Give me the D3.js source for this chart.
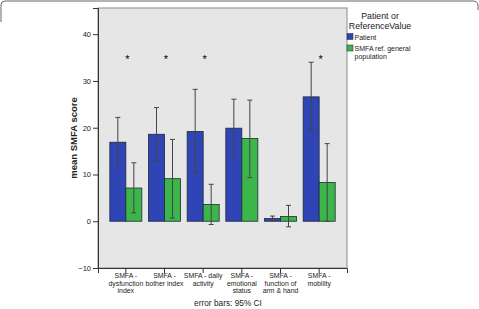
<!DOCTYPE html>
<meta charset="utf-8">
<script src="https://d3js.org/d3.v7.min.js"></script>
<style>
  body { margin: 0; background: #fff; }
  text { font-family: "Liberation Sans", Arial, sans-serif; fill: #222; }
</style>
<div id="my_dataviz"></div>
<script>

// categories and values
var categories = ["SMFA - dysfunction index", "SMFA - bother index", "SMFA - daily activity",
                  "SMFA - emotional status", "SMFA - function of arm & hand", "SMFA - mobility"];
var catLines = [["SMFA -", "dysfunction", "index"], ["SMFA -", "bother index"], ["SMFA - daily", "activity"],
                ["SMFA -", "emotional", "status"], ["SMFA -", "function of", "arm & hand"], ["SMFA -", "mobility"]];
var groups = ["Patient", "SMFA ref. general population"];
var patient   = [16.9, 18.6, 19.2, 19.9, 0.6, 26.6];
var patientLo = [11.8, 13.0, 10.3, 13.9, 0.1, 19.4];
var patientHi = [22.2, 24.3, 28.2, 26.1, 1.1, 34.0];
var reference   = [7.1, 9.1, 3.6, 17.7, 1.0, 8.3];
var referenceLo = [1.8, 0.7, -0.7, 9.3, -1.2, 0.0];
var referenceHi = [12.5, 17.5, 7.9, 25.9, 3.4, 16.6];
var significant = [1, 1, 1, 0, 0, 1];
var yTicks = [-10, 0, 10, 20, 30, 40];

var colors = ["#2f45b6", "#3cb64b"];

// set the dimensions of the graph
var W = 479, H = 309;
var plot = {left: 98, top: 8, right: 347, bottom: 268};

var svg = d3.select("#my_dataviz")
  .append("svg")
    .attr("width", W)
    .attr("height", H);

// outer frame (only the top is in view)
svg.append("path")
  .attr("d", "M1,22 L1,5 Q1,1 5,1 L473,1 Q478,1 478,6 L478,10")
  .attr("fill", "none")
  .attr("stroke", "#666")
  .attr("stroke-width", 1);

// scales
var y = d3.scaleLinear()
  .domain([-10, 45.6])
  .range([plot.bottom, plot.top]);

var x = d3.scaleBand()
  .domain(categories)
  .range([plot.left, plot.right])
  .paddingInner(0.172)
  .paddingOuter(0.306);

var xSub = d3.scaleBand()
  .domain(groups)
  .range([0, x.bandwidth()]);

// plot background
svg.append("rect")
  .attr("x", plot.left)
  .attr("y", plot.top)
  .attr("width", plot.right - plot.left)
  .attr("height", plot.bottom - plot.top)
  .attr("fill", "#e6e6e6")
  .attr("stroke", "#8a8a8a")
  .attr("stroke-width", 1);

// Y axis
var yAxis = svg.append("g")
  .attr("transform", "translate(" + plot.left + ",0)")
  .call(d3.axisLeft(y).tickValues(yTicks).tickSize(5).tickPadding(2));
yAxis.select(".domain").attr("stroke", "#333");
yAxis.selectAll(".tick line").attr("stroke", "#333");
yAxis.selectAll("text").style("font-size", "7.5px").attr("fill", "#333");

// X axis
var xAxis = svg.append("g")
  .attr("transform", "translate(0," + plot.bottom + ")")
  .call(d3.axisBottom(x).tickSize(5).tickFormat(""));
xAxis.select(".domain").attr("stroke", "#333");
xAxis.selectAll(".tick line").attr("stroke", "#333");

// category labels on several lines
categories.forEach(function(c, i) {
  var t = svg.append("text")
    .attr("text-anchor", "middle")
    .attr("x", x(c) + x.bandwidth() / 2)
    .attr("y", 278)
    .style("font-size", "6.9px")
    .attr("fill", "#333");
  catLines[i].forEach(function(line, j) {
    t.append("tspan")
      .attr("x", x(c) + x.bandwidth() / 2)
      .attr("dy", j === 0 ? 0 : 7.6)
      .text(line);
  });
});

// data rows for bars
var rows = [];
categories.forEach(function(c, i) {
  rows.push({cat: c, group: groups[0], value: patient[i], lo: patientLo[i], hi: patientHi[i]});
  rows.push({cat: c, group: groups[1], value: reference[i], lo: referenceLo[i], hi: referenceHi[i]});
});

// bars
svg.append("g")
  .selectAll("rect")
  .data(rows)
  .enter()
  .append("rect")
    .attr("x", function(d) { return x(d.cat) + xSub(d.group); })
    .attr("y", function(d) { return y(Math.max(d.value, 0)); })
    .attr("width", xSub.bandwidth())
    .attr("height", function(d) { return Math.abs(y(d.value) - y(0)); })
    .attr("fill", function(d) { return d.group === groups[0] ? colors[0] : colors[1]; })
    .attr("stroke", "#1d2a3a")
    .attr("stroke-width", 0.8);

// error bars
var err = svg.append("g")
  .selectAll("g")
  .data(rows)
  .enter()
  .append("g")
    .attr("stroke", "#444")
    .attr("stroke-width", 1);

err.append("line")
  .attr("x1", function(d) { return x(d.cat) + xSub(d.group) + xSub.bandwidth() / 2; })
  .attr("x2", function(d) { return x(d.cat) + xSub(d.group) + xSub.bandwidth() / 2; })
  .attr("y1", function(d) { return y(d.lo); })
  .attr("y2", function(d) { return y(d.hi); });

[ "lo", "hi" ].forEach(function(k) {
  err.append("line")
    .attr("x1", function(d) { return x(d.cat) + xSub(d.group) + xSub.bandwidth() / 2 - 2.5; })
    .attr("x2", function(d) { return x(d.cat) + xSub(d.group) + xSub.bandwidth() / 2 + 2.5; })
    .attr("y1", function(d) { return y(d[k]); })
    .attr("y2", function(d) { return y(d[k]); });
});

// significance stars
svg.append("g")
  .selectAll("text")
  .data(categories.filter(function(c, i) { return significant[i]; }))
  .enter()
  .append("text")
    .attr("text-anchor", "middle")
    .attr("x", function(d) { return x(d) + x.bandwidth() / 2 + 1.5; })
    .attr("y", y(35) + 5)
    .style("font-size", "11px")
    .style("fill", "#000")
    .text("*");

// y label
svg.append("text")
  .attr("text-anchor", "middle")
  .attr("transform", "translate(77,138) rotate(-90)")
  .style("font-size", "9.5px")
  .style("font-weight", "bold")
  .text("mean SMFA score");

// footnote
svg.append("text")
  .attr("text-anchor", "middle")
  .attr("x", 228)
  .attr("y", 306)
  .style("font-size", "8.3px")
  .attr("fill", "#333")
  .text("error bars: 95% CI");

// legend
svg.append("text")
  .attr("text-anchor", "middle")
  .attr("x", 380)
  .attr("y", 19)
  .style("font-size", "8.8px")
  .text("Patient or");
svg.append("text")
  .attr("text-anchor", "middle")
  .attr("x", 380)
  .attr("y", 28.5)
  .style("font-size", "8.8px")
  .text("ReferenceValue");

var legend = svg.append("g")
  .selectAll("g")
  .data(groups)
  .enter()
  .append("g")
    .attr("transform", function(d, i) { return "translate(347," + (33.5 + i * 11.5) + ")"; });

legend.append("rect")
  .attr("width", 6)
  .attr("height", 6)
  .attr("fill", function(d, i) { return colors[i]; })
  .attr("stroke", "#1d2a3a")
  .attr("stroke-width", 0.5);

legend.append("text")
  .attr("x", 7.5)
  .attr("y", 6)
  .style("font-size", "7px")
  .attr("fill", "#333")
  .each(function(d) {
    var parts = d === groups[1] ? ["SMFA ref. general", "population"] : [d];
    var t = d3.select(this);
    parts.forEach(function(p, j) {
      t.append("tspan").attr("x", 7.5).attr("dy", j === 0 ? 0 : 7.7).text(p);
    });
  });

</script>
